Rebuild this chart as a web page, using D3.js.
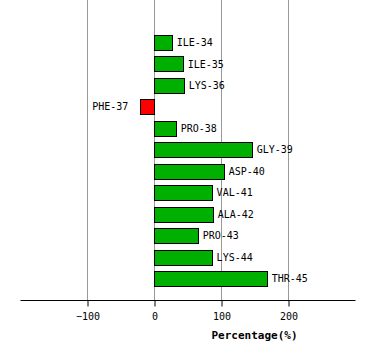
<!DOCTYPE html>
<html><head><meta charset="utf-8">
<script src="https://cdn.jsdelivr.net/npm/d3@7"></script>
<style>body{margin:0;background:#fff}svg{display:block}</style>
</head><body><svg id="c" width="374" height="360"></svg>
<script>
const categories = ["ILE-34","ILE-35","LYS-36","PHE-37","PRO-38","GLY-39","ASP-40","VAL-41","ALA-42","PRO-43","LYS-44","THR-45"];
const values = [26.4, 42.8, 44.3, -20.4, 32.4, 145.8, 104, 86, 87.6, 65.2, 86, 168.2];
const tickValues = [-100, 0, 100, 200];
const axisTitle = "Percentage(%)";

const svg = d3.select("#c");
const x = d3.scaleLinear().domain([-200, 300]).range([20, 355]);
const y = d3.scaleBand().domain(categories).range([31.8, 289.4]).paddingInner(0.3).paddingOuter(0.15);
const axisY = 300.5;
const font = "'DejaVu Sans Mono', monospace";

// gridlines
svg.append("g").selectAll("line").data(tickValues).join("line")
  .attr("x1", d => Math.round(x(d)) + 0.5).attr("x2", d => Math.round(x(d)) + 0.5)
  .attr("y1", 0).attr("y2", axisY)
  .attr("stroke", "#999").attr("stroke-width", 1);

// bars
svg.append("g").selectAll("rect").data(categories).join("rect")
  .attr("x", (d, i) => Math.round(x(Math.min(0, values[i]))) + 0.5)
  .attr("y", d => Math.round(y(d)) + 0.5)
  .attr("width", (d, i) => Math.round(Math.abs(x(values[i]) - x(0))))
  .attr("height", Math.round(y.bandwidth()))
  .attr("fill", (d, i) => values[i] < 0 ? "#ff0000" : "#00b000")
  .attr("stroke", "#000").attr("stroke-width", 1);

// labels
svg.append("g").selectAll("text").data(categories).join("text")
  .attr("x", (d, i) => values[i] < 0 ? x(values[i]) - 12 : x(values[i]) + 5)
  .attr("y", d => y(d) + y.bandwidth() / 2)
  .attr("dy", "0.35em")
  .attr("text-anchor", (d, i) => values[i] < 0 ? "end" : "start")
  .attr("font-family", font).attr("font-size", "10px").attr("fill", "#000")
  .text(d => d);

// axis
const axis = d3.axisBottom(x).tickValues(tickValues).tickSize(6).tickPadding(6).tickFormat(d3.format("d"));
const ag = svg.append("g").attr("transform", `translate(0.5,${axisY})`).call(axis);
ag.select(".domain").attr("d", `M20,0H355`).attr("stroke", "#000");
ag.selectAll(".tick line").attr("stroke", "#000");
ag.selectAll(".tick text").attr("font-family", font).attr("font-size", "10px").attr("fill", "#000");

svg.append("text").attr("x", 254.5).attr("y", 339)
  .attr("text-anchor", "middle").attr("font-family", font).attr("font-weight", "bold")
  .attr("font-size", "11px").attr("fill", "#000").text(axisTitle);
</script></body></html>
